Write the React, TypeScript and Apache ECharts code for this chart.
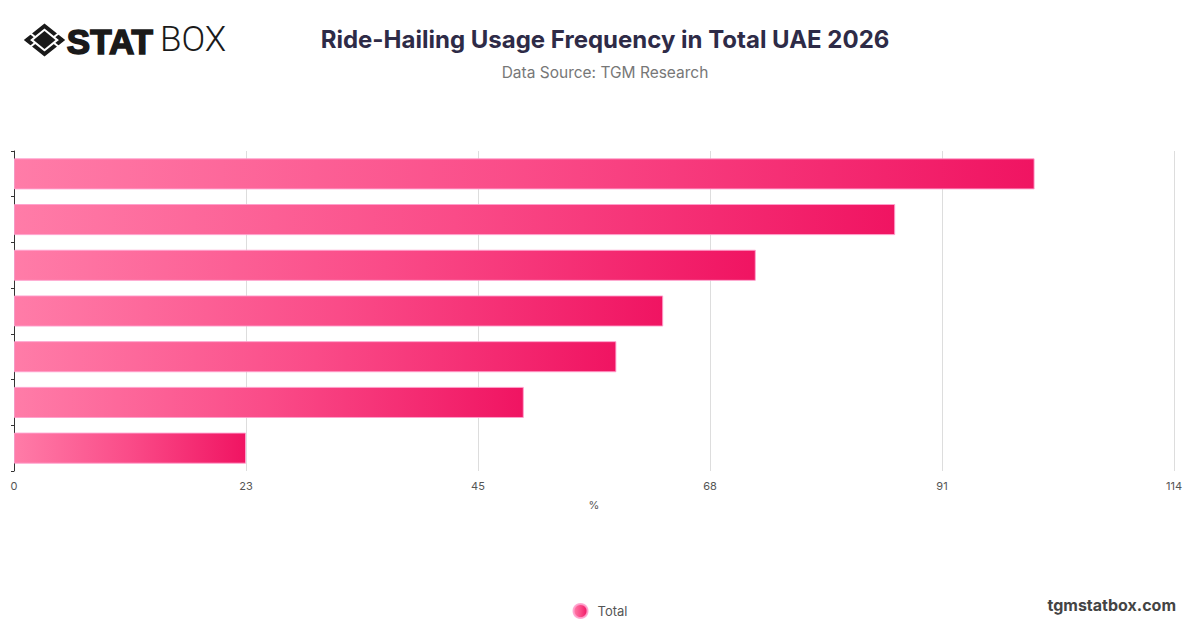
import React, { useEffect, useRef } from "react";
import * as echarts from "echarts";

const categories = [
  "Option 1",
  "Option 2",
  "Option 3",
  "Option 4",
  "Option 5",
  "Option 6",
  "Option 7",
];
const totalValues = [100.3, 86.6, 72.9, 63.8, 59.2, 50.1, 22.8];
const axisMax = 114;
const axisInterval = 22.8;
const tickLabels = ["0", "23", "45", "68", "91", "114"];

export default function App() {
  const ref = useRef<HTMLDivElement>(null);

  useEffect(() => {
    if (!ref.current) return;
    const chart = echarts.init(ref.current, null, { renderer: "svg" });
    const barGradient = new echarts.graphic.LinearGradient(0, 0, 1, 0, [
      { offset: 0, color: "#ff7ca8" },
      { offset: 0.5, color: "#fa4b88" },
      { offset: 1, color: "#f01462" },
    ]);
    chart.setOption({
      animation: false,
      backgroundColor: "#ffffff",
      textStyle: { fontFamily: "Inter, 'Noto Sans', sans-serif" },
      title: [
        {
          text: "Ride-Hailing Usage Frequency in Total UAE 2026",
          left: 600,
          textAlign: "center",
          top: 22,
          textStyle: {
            fontSize: 24,
            fontWeight: 700,
            color: "#2e2b47",
            fontFamily: "Inter, sans-serif",
          },
        },
        {
          text: "Data Source: TGM Research",
          left: 600,
          textAlign: "center",
          top: 59,
          textStyle: {
            fontSize: 15.5,
            fontWeight: 400,
            color: "#777777",
            fontFamily: "Inter, sans-serif",
          },
        },
      ],
      legend: {
        show: true,
        bottom: 4,
        left: "center",
        icon: "circle",
        itemWidth: 14,
        itemHeight: 14,
        itemGap: 10,
        textStyle: {
          color: "#555555",
          fontSize: 13,
          fontFamily: "Inter, sans-serif",
          padding: [0, 0, 0, 5],
        },
        data: ["Total"],
      },
      grid: { left: 14, right: 26, top: 151, bottom: 157, containLabel: false },
      xAxis: {
        type: "value",
        min: 0,
        max: axisMax,
        interval: axisInterval,
        name: "%",
        nameLocation: "middle",
        nameGap: 28,
        nameTextStyle: { color: "#555555", fontSize: 11 },
        axisLine: { show: false },
        axisTick: { show: false },
        axisLabel: {
          color: "#555555",
          fontSize: 11,
          margin: 9,
          formatter: (v: number) =>
            tickLabels[Math.round(v / axisInterval)] ?? String(Math.round(v)),
        },
        splitLine: { show: true, lineStyle: { color: "#dddddd", width: 1 } },
      },
      yAxis: {
        type: "category",
        inverse: true,
        data: categories,
        axisLine: { show: true, lineStyle: { color: "#333333", width: 1 } },
        axisTick: { show: true, length: 3, lineStyle: { color: "#333333" } },
        axisLabel: { show: false },
        splitLine: { show: false },
      },
      series: [
        {
          name: "Total",
          type: "bar",
          data: totalValues,
          barCategoryGap: "32%",
          itemStyle: {
            color: barGradient,
            borderColor: "rgba(255,160,205,0.9)",
            borderWidth: 1,
          },
        },
      ],
      graphic: [
        {
          type: "polygon",
          shape: {
            points: [
              [44.5, 26],
              [62, 40],
              [44.5, 54],
              [27, 40],
            ],
          },
          style: { fill: "none", stroke: "#1a1a1a", lineWidth: 4 },
        },
        {
          type: "polygon",
          shape: {
            points: [
              [44.5, 31],
              [55.5, 40],
              [44.5, 49],
              [33.5, 40],
            ],
          },
          style: { fill: "#1a1a1a" },
        },
        {
          type: "line",
          shape: { x1: 30, y1: 47, x2: 35, y2: 43 },
          style: { stroke: "#ffffff", lineWidth: 2 },
        },
        {
          type: "line",
          shape: { x1: 59, y1: 47, x2: 54, y2: 43 },
          style: { stroke: "#ffffff", lineWidth: 2 },
        },
        {
          type: "line",
          shape: { x1: 30, y1: 33, x2: 35, y2: 37 },
          style: { stroke: "#ffffff", lineWidth: 2 },
        },
        {
          type: "line",
          shape: { x1: 59, y1: 33, x2: 54, y2: 37 },
          style: { stroke: "#ffffff", lineWidth: 2 },
        },
        {
          type: "text",
          left: 66,
          top: 23,
          style: {
            text: "STAT",
            fontSize: 35,
            fontWeight: 700,
            fontFamily: "'Liberation Sans', Arial, sans-serif",
            fill: "#1a1a1a",
            stroke: "#1a1a1a",
            lineWidth: 1.6,
          },
        },
        {
          type: "text",
          left: 160,
          top: 22,
          style: {
            text: "BOX",
            fontSize: 35,
            fontWeight: 300,
            fontFamily: "Roboto, 'DejaVu Sans', sans-serif",
            fill: "#1a1a1a",
          },
        },
        {
          type: "text",
          right: 24,
          top: 597,
          style: {
            text: "tgmstatbox.com",
            fontSize: 16,
            fontWeight: 700,
            fontFamily: "Inter, sans-serif",
            fill: "#444444",
          },
        },
      ],
    });
    return () => chart.dispose();
  }, []);

  return (
    <div
      ref={ref}
      style={{ width: 1200, height: 628, position: "absolute", left: 0, top: 0 }}
    />
  );
}
